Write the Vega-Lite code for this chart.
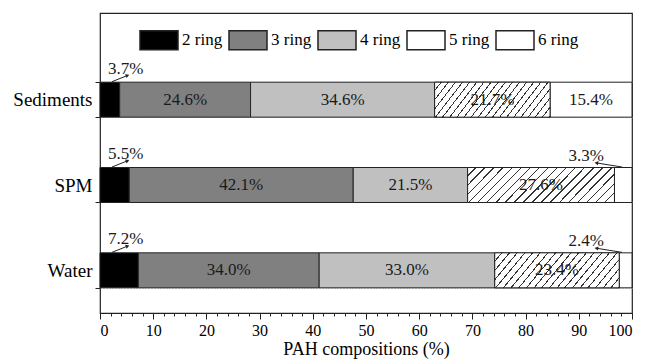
{
  "$schema": "https://vega.github.io/schema/vega-lite/v6.json",
  "width": 532,
  "height": 300,
  "autosize": {"type": "none"},
  "padding": {"left": 100, "top": 13, "right": 16, "bottom": 46},
  "config": {
    "font": "Liberation Serif",
    "view": {"stroke": "#222", "strokeWidth": 1.2},
    "axis": {"labelColor": "#000", "titleColor": "#000", "tickColor": "#222", "domainColor": "#222"}
  },
  "data": {
    "values": [
      {"site": "Sediments", "ring": "2 ring", "value": 3.7},
      {"site": "Sediments", "ring": "3 ring", "value": 24.6},
      {"site": "Sediments", "ring": "4 ring", "value": 34.6},
      {"site": "Sediments", "ring": "5 ring", "value": 21.7},
      {"site": "Sediments", "ring": "6 ring", "value": 15.4},
      {"site": "SPM", "ring": "2 ring", "value": 5.5},
      {"site": "SPM", "ring": "3 ring", "value": 42.1},
      {"site": "SPM", "ring": "4 ring", "value": 21.5},
      {"site": "SPM", "ring": "5 ring", "value": 27.6},
      {"site": "SPM", "ring": "6 ring", "value": 3.3},
      {"site": "Water", "ring": "2 ring", "value": 7.2},
      {"site": "Water", "ring": "3 ring", "value": 34.0},
      {"site": "Water", "ring": "4 ring", "value": 33.0},
      {"site": "Water", "ring": "5 ring", "value": 23.4},
      {"site": "Water", "ring": "6 ring", "value": 2.4}
    ]
  },
  "transform": [
    {"stack": "value", "groupby": ["site"], "sort": [{"field": "ring", "order": "ascending"}], "as": ["x0", "x1"]},
    {"calculate": "(datum.x0 + datum.x1) / 2", "as": "mid"},
    {"calculate": "format(datum.value, '.1f') + '%'", "as": "label"}
  ],
  "encoding": {
    "y": {
      "field": "site",
      "type": "nominal",
      "sort": ["Sediments", "SPM", "Water"],
      "scale": {"range": [44, 300], "paddingInner": 0.59, "paddingOuter": 0.295},
      "axis": {
        "title": null,
        "labelFontSize": 19,
        "labelPadding": 3,
        "tickSize": 5,
        "tickBand": "extent",
        "domain": false,
        "grid": true,
        "gridDash": [1, 2],
        "gridColor": "#aaa"
      }
    }
  },
  "resolve": {"axis": {"x": "independent"}},
  "layer": [
    {
      "mark": {"type": "bar", "stroke": "#222", "strokeWidth": 1},
      "encoding": {
        "x": {
          "field": "x0",
          "type": "quantitative",
          "scale": {"domain": [0, 100], "nice": false},
          "axis": {
            "orient": "bottom",
            "title": "PAH compositions (%)",
            "titleFontSize": 18,
            "titleFontWeight": "normal",
            "titlePadding": 2,
            "labelFontSize": 16,
            "labelPadding": 3,
            "labelOverlap": false,
            "grid": false,
            "values": [0, 10, 20, 30, 40, 50, 60, 70, 80, 90, 100],
            "tickSize": 6
          }
        },
        "x2": {"field": "x1"},
        "color": {
          "field": "ring",
          "type": "nominal",
          "scale": {
            "domain": ["2 ring", "3 ring", "4 ring", "5 ring", "6 ring"],
            "range": ["#000000", "#808080", "#c0c0c0", "#ffffff", "#ffffff"]
          },
          "legend": {
            "title": null,
            "orient": "none",
            "legendX": 39,
            "legendY": 7,
            "direction": "horizontal",
            "columns": 5,
            "padding": 0,
            "columnPadding": 3,
            "labelOffset": 3,
            "labelFontSize": 17,
            "labelColor": "#000",
            "symbolType": "M-1,-0.5H1V0.5H-1Z",
            "symbolSize": 1444,
            "encode": {
              "symbols": {
                "update": {
                  "stroke": {"value": "#222"},
                  "strokeWidth": {"value": 1},
                  "shape": {
                    "signal": "(datum.label === '5 ring' || datum.value === '5 ring' || datum.index === 3) ? 'M-1,-0.5H1V0.5H-1Z M-1,-0.333L-0.86,-0.5 M-1,0.131L-0.47,-0.5 M-0.92,0.5L-0.08,-0.5 M-0.53,0.5L0.31,-0.5 M-0.14,0.5L0.7,-0.5 M0.25,0.5L1,-0.393 M0.64,0.5L1,0.071' : 'M-1,-0.5H1V0.5H-1Z'"
                  }
                },
                "stroke": {"value": "#222"},
                "strokeWidth": {"value": 1},
                "shape": {
                  "value": {
                    "expr": "(datum.label === '5 ring' || datum.value === '5 ring' || datum.index === 3) ? 'M-1,-0.5H1V0.5H-1Z M-1,-0.333L-0.86,-0.5 M-1,0.131L-0.47,-0.5 M-0.92,0.5L-0.08,-0.5 M-0.53,0.5L0.31,-0.5 M-0.14,0.5L0.7,-0.5 M0.25,0.5L1,-0.393 M0.64,0.5L1,0.071' : 'M-1,-0.5H1V0.5H-1Z'"
                  }
                }
              }
            }
          }
        }
      }
    },
    {
      "transform": [{"filter": "datum.ring === '5 ring'"}],
      "mark": {
        "type": "bar",
        "stroke": "#222",
        "strokeWidth": 1,
        "fill": {
          "gradient": "linear", "x1": 0, "y1": 0, "x2": 1.17, "y2": 0.275,
          "stops": [
            {"offset": 0.042, "color": "#ffffff"}, {"offset": 0.042, "color": "#333333"}, {"offset": 0.05, "color": "#333333"}, {"offset": 0.05, "color": "#ffffff"},
            {"offset": 0.092, "color": "#ffffff"}, {"offset": 0.092, "color": "#333333"}, {"offset": 0.1, "color": "#333333"}, {"offset": 0.1, "color": "#ffffff"},
            {"offset": 0.142, "color": "#ffffff"}, {"offset": 0.142, "color": "#333333"}, {"offset": 0.15, "color": "#333333"}, {"offset": 0.15, "color": "#ffffff"},
            {"offset": 0.192, "color": "#ffffff"}, {"offset": 0.192, "color": "#333333"}, {"offset": 0.2, "color": "#333333"}, {"offset": 0.2, "color": "#ffffff"},
            {"offset": 0.242, "color": "#ffffff"}, {"offset": 0.242, "color": "#333333"}, {"offset": 0.25, "color": "#333333"}, {"offset": 0.25, "color": "#ffffff"},
            {"offset": 0.292, "color": "#ffffff"}, {"offset": 0.292, "color": "#333333"}, {"offset": 0.3, "color": "#333333"}, {"offset": 0.3, "color": "#ffffff"},
            {"offset": 0.342, "color": "#ffffff"}, {"offset": 0.342, "color": "#333333"}, {"offset": 0.35, "color": "#333333"}, {"offset": 0.35, "color": "#ffffff"},
            {"offset": 0.392, "color": "#ffffff"}, {"offset": 0.392, "color": "#333333"}, {"offset": 0.4, "color": "#333333"}, {"offset": 0.4, "color": "#ffffff"},
            {"offset": 0.442, "color": "#ffffff"}, {"offset": 0.442, "color": "#333333"}, {"offset": 0.45, "color": "#333333"}, {"offset": 0.45, "color": "#ffffff"},
            {"offset": 0.492, "color": "#ffffff"}, {"offset": 0.492, "color": "#333333"}, {"offset": 0.5, "color": "#333333"}, {"offset": 0.5, "color": "#ffffff"},
            {"offset": 0.542, "color": "#ffffff"}, {"offset": 0.542, "color": "#333333"}, {"offset": 0.55, "color": "#333333"}, {"offset": 0.55, "color": "#ffffff"},
            {"offset": 0.592, "color": "#ffffff"}, {"offset": 0.592, "color": "#333333"}, {"offset": 0.6, "color": "#333333"}, {"offset": 0.6, "color": "#ffffff"},
            {"offset": 0.642, "color": "#ffffff"}, {"offset": 0.642, "color": "#333333"}, {"offset": 0.65, "color": "#333333"}, {"offset": 0.65, "color": "#ffffff"},
            {"offset": 0.692, "color": "#ffffff"}, {"offset": 0.692, "color": "#333333"}, {"offset": 0.7, "color": "#333333"}, {"offset": 0.7, "color": "#ffffff"},
            {"offset": 0.742, "color": "#ffffff"}, {"offset": 0.742, "color": "#333333"}, {"offset": 0.75, "color": "#333333"}, {"offset": 0.75, "color": "#ffffff"},
            {"offset": 0.792, "color": "#ffffff"}, {"offset": 0.792, "color": "#333333"}, {"offset": 0.8, "color": "#333333"}, {"offset": 0.8, "color": "#ffffff"},
            {"offset": 0.842, "color": "#ffffff"}, {"offset": 0.842, "color": "#333333"}, {"offset": 0.85, "color": "#333333"}, {"offset": 0.85, "color": "#ffffff"},
            {"offset": 0.892, "color": "#ffffff"}, {"offset": 0.892, "color": "#333333"}, {"offset": 0.9, "color": "#333333"}, {"offset": 0.9, "color": "#ffffff"},
            {"offset": 0.942, "color": "#ffffff"}, {"offset": 0.942, "color": "#333333"}, {"offset": 0.95, "color": "#333333"}, {"offset": 0.95, "color": "#ffffff"},
            {"offset": 0.992, "color": "#ffffff"}, {"offset": 0.992, "color": "#333333"}, {"offset": 1.0, "color": "#333333"}
          ]
        }
      },
      "encoding": {
        "x": {
          "field": "x0",
          "type": "quantitative",
          "axis": {
            "orient": "bottom",
            "title": null,
            "labels": false,
            "domain": false,
            "grid": false,
            "tickSize": 3,
            "values": [2, 4, 6, 8, 12, 14, 16, 18, 22, 24, 26, 28, 32, 34, 36, 38, 42, 44, 46, 48, 52, 54, 56, 58, 62, 64, 66, 68, 72, 74, 76, 78, 82, 84, 86, 88, 92, 94, 96, 98]
          }
        },
        "x2": {"field": "x1"}
      }
    },
    {
      "transform": [{"filter": "datum.value >= 8"}],
      "mark": {"type": "text", "fontSize": 17, "color": "#1a1a1a", "baseline": "middle"},
      "encoding": {
        "x": {"field": "mid", "type": "quantitative", "axis": null},
        "text": {"field": "label"}
      }
    },
    {
      "transform": [{"filter": "datum.ring === '2 ring'"}],
      "mark": {"type": "text", "fontSize": 17, "color": "#1a1a1a", "align": "left", "baseline": "middle", "dx": 8, "dy": -31},
      "encoding": {
        "x": {"field": "x0", "type": "quantitative", "axis": null},
        "text": {"field": "label"}
      }
    },
    {
      "transform": [{"filter": "datum.ring === '2 ring'"}],
      "mark": {"type": "rule", "color": "#222", "strokeWidth": 1, "xOffset": 12, "x2Offset": 27, "yOffset": -18, "y2Offset": -24},
      "encoding": {
        "x": {"field": "x0", "type": "quantitative", "axis": null},
        "x2": {"field": "x0"},
        "y2": {"field": "site"}
      }
    },
    {
      "transform": [{"filter": "datum.ring === '2 ring'"}],
      "mark": {"type": "point", "shape": "triangle", "filled": true, "color": "#222", "size": 18, "angle": 68, "opacity": 1, "xOffset": 27, "yOffset": -24},
      "encoding": {
        "x": {"field": "x0", "type": "quantitative", "axis": null}
      }
    },
    {
      "transform": [{"filter": "datum.ring === '6 ring' && datum.value < 8"}],
      "mark": {"type": "text", "fontSize": 17, "color": "#1a1a1a", "align": "right", "baseline": "middle", "dx": -28, "dy": -29},
      "encoding": {
        "x": {"field": "x1", "type": "quantitative", "axis": null},
        "text": {"field": "label"}
      }
    },
    {
      "transform": [{"filter": "datum.ring === '6 ring' && datum.value < 8"}],
      "mark": {"type": "rule", "color": "#222", "strokeWidth": 1, "xOffset": -35, "x2Offset": -10, "yOffset": -22, "y2Offset": -18},
      "encoding": {
        "x": {"field": "x1", "type": "quantitative", "axis": null},
        "x2": {"field": "x1"},
        "y2": {"field": "site"}
      }
    },
    {
      "transform": [{"filter": "datum.ring === '6 ring' && datum.value < 8"}],
      "mark": {"type": "point", "shape": "triangle", "filled": true, "color": "#222", "size": 18, "angle": -82, "opacity": 1, "xOffset": -35, "yOffset": -22},
      "encoding": {
        "x": {"field": "x1", "type": "quantitative", "axis": null}
      }
    }
  ]
}
